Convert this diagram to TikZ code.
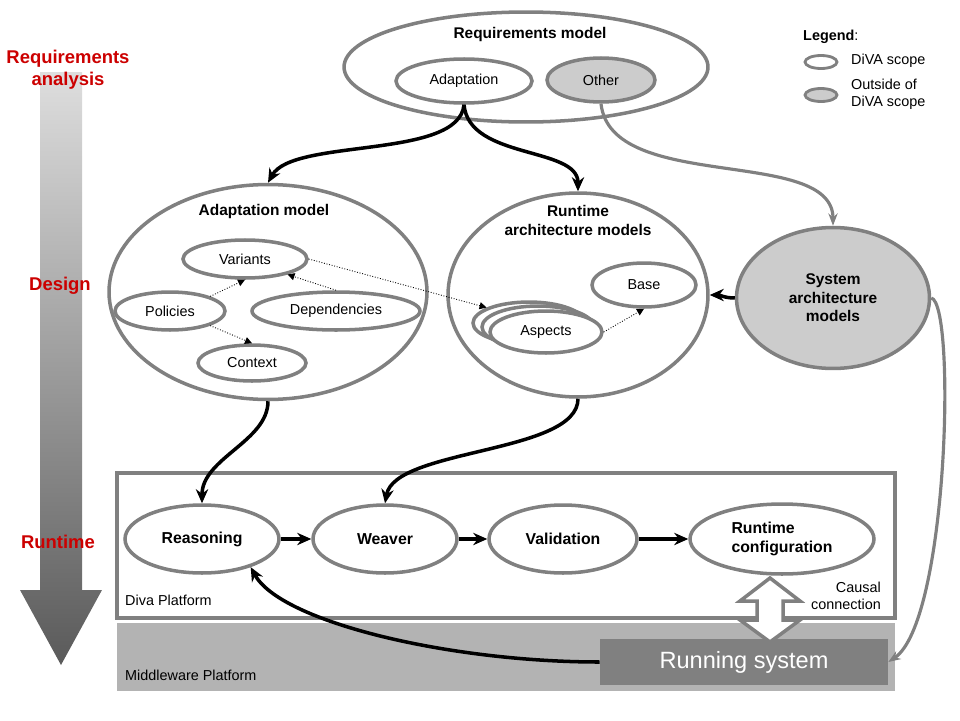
\documentclass[tikz,border=0pt]{standalone}
\usepackage{fontspec}
\setmainfont{Liberation Sans}
\usetikzlibrary{arrows.meta,shapes.geometric}
\definecolor{divagray}{HTML}{808080}
\definecolor{outfill}{HTML}{CCCCCC}
\definecolor{mwfill}{HTML}{B3B3B3}
\definecolor{phasered}{HTML}{CC0000}
\definecolor{shaftlight}{HTML}{DEDEDE}
\definecolor{shaftdark}{HTML}{5A5A5A}

\begin{document}
\begin{tikzpicture}[x=0.02cm,y=-0.02cm,font=\fontsize{8.2}{9.8}\selectfont]
    \tikzstyle{diva}=[ellipse,draw=divagray,line width=2pt,fill=white,inner sep=0pt]
    \tikzstyle{outside}=[diva,fill=outfill]
    \tikzstyle{title}=[font=\fontsize{8.8}{10.8}\selectfont\bfseries,align=center]
    \tikzstyle{phase}=[font=\fontsize{10.5}{12.5}\selectfont\bfseries,text=phasered,align=center]
    \tikzstyle{proc}=[diva,font=\fontsize{9}{10.8}\selectfont\bfseries,align=center]
    \tikzstyle{flow}=[-{Stealth[length=8pt,width=7pt]},line width=2pt]
    \tikzstyle{grayflow}=[-{Stealth[length=7pt]},line width=1.8pt,draw=divagray]
    \tikzstyle{dep}=[-{Triangle[length=4pt,width=4pt]},densely dotted,line width=0.5pt]
    \useasboundingbox (0,0) rectangle (960,720);

    \shade[top color=shaftlight,bottom color=shaftdark] (40,72) -- (82,72) -- (82,590) -- (102,590) -- (61,665) -- (20,590) -- (40,590) -- cycle;
    \node [phase] (phreq) at (68,70) {Requirements\\analysis};
    \node [phase] (phdesign) at (60,286) {Design};
    \node [phase] (phrun) at (58,542) {Runtime};

    \fill [mwfill] (117,623) rectangle (895,691);
    \draw [divagray,line width=2pt] (117,473) rectangle (895,618);
    \node [anchor=west] (divalabel) at (119,600) {Diva Platform};
    \node [anchor=west] (mwlabel) at (119,675) {Middleware Platform};

    \node [diva,minimum width=7.28cm,minimum height=2.2cm] (reqmodel) at (526,67) {};
    \node [title] (reqtitle) at (530,35) {Requirements model};
    \node [diva,minimum width=2.72cm,minimum height=0.88cm] (adapt) at (464,81) {Adaptation};
    \node [outside,minimum width=2.16cm,minimum height=0.88cm] (other) at (601,80) {Other};

    \node [anchor=west] (legtitle) at (797,37) {\textbf{Legend}:};
    \node [diva,line width=1.6pt,minimum width=0.64cm,minimum height=0.26cm] (legdiva) at (821,62) {};
    \node [outside,line width=1.6pt,minimum width=0.64cm,minimum height=0.26cm] (legout) at (821,95) {};
    \node [anchor=west] (legdivatext) at (845,61) {DiVA scope};
    \node [anchor=west,align=left] (legouttext) at (845,94) {Outside of\\DiVA scope};

    \node [diva,minimum width=6.36cm,minimum height=4.3cm] (amodel) at (268,292) {};
    \node [title] (amtitle) at (264,211) {Adaptation model};
    \node [diva,minimum width=2.48cm,minimum height=0.76cm] (variants) at (245,259) {Variants};
    \node [diva,minimum width=2.2cm,minimum height=0.76cm] (policies) at (170,311) {Policies};
    \node [diva,minimum width=3.36cm,minimum height=0.76cm] (depend) at (336,311) {Dependencies};
    \node [diva,minimum width=2.16cm,minimum height=0.72cm] (context) at (252,363) {Context};

    \node [diva,minimum width=5.2cm,minimum height=4.08cm] (ramodel) at (578,295) {};
    \node [title] (ramtitle) at (578,220) {Runtime\\architecture models};
    \node [diva,minimum width=2.08cm,minimum height=0.88cm] (base) at (644,285) {Base};
    \node [diva,minimum width=2.24cm,minimum height=0.84cm] (asp3) at (529,323) {};
    \node [diva,minimum width=2.24cm,minimum height=0.84cm] (asp2) at (538,327) {};
    \node [diva,minimum width=2.24cm,minimum height=0.84cm] (aspects) at (546,332) {Aspects};

    \node [outside,minimum width=3.86cm,minimum height=2.82cm,font=\fontsize{8.8}{10.5}\selectfont\bfseries,align=center] (sysarch) at (833,298) {System\\architecture\\models};

    \node [proc,minimum width=3.08cm,minimum height=1.36cm] (reason) at (202,539) {Reasoning};
    \node [proc,minimum width=2.88cm,minimum height=1.36cm] (weaver) at (385,539) {Weaver};
    \node [proc,minimum width=2.96cm,minimum height=1.36cm] (valid) at (563,539) {Validation};
    \node [proc,minimum width=3.68cm,minimum height=1.4cm,align=left] (rtconf) at (782,539) {Runtime\\configuration};

    \node [rectangle,fill=divagray,text=white,minimum width=5.76cm,minimum height=0.92cm,font=\fontsize{13.4}{15}\selectfont] (running) at (744,662) {Running system};
    \draw [divagray,line width=2pt,fill=white] (770,578) -- (800,601) -- (783,601) -- (783,620) -- (800,620) -- (770,642) -- (740,620) -- (757,620) -- (757,601) -- (740,601) -- cycle;
    \node [anchor=east,align=right] (causal) at (887,596) {Causal\\connection};

    \draw [flow] (adapt.south) .. controls +(-5,55) and +(25,-45) .. (amodel.north);
    \draw [flow] (adapt.south) .. controls +(5,55) and +(0,-45) .. (ramodel.north);
    \draw [grayflow] (other.south) .. controls +(10,90) and +(0,-80) .. (sysarch.north);
    \draw [grayflow] (sysarch.east) .. controls +(25,5) and +(60,-40) .. (running.east);
    \draw [flow] (sysarch.west) .. controls +(-10,0) and +(10,0) .. (ramodel.east);

    \draw [dep] (policies.20) -- (variants.south);
    \draw [dep] (depend.north) -- (variants.-20);
    \draw [dep] (policies.-20) -- (context.north);
    \draw [dep] (variants.east) -- (asp3.160);
    \draw [dep] (aspects.east) -- (base.south);

    \draw [flow] (amodel.south) .. controls +(0,40) and +(0,-45) .. (reason.north);
    \draw [flow] (ramodel.south) .. controls +(0,55) and +(10,-55) .. (weaver.north);
    \draw [flow] (reason.east) -- (weaver.west);
    \draw [flow] (weaver.east) -- (valid.west);
    \draw [flow] (valid.east) -- (rtconf.west);
    \draw [flow] (running.west) .. controls +(-150,0) and +(30,55) .. (reason.-30);
\end{tikzpicture}
\end{document}
